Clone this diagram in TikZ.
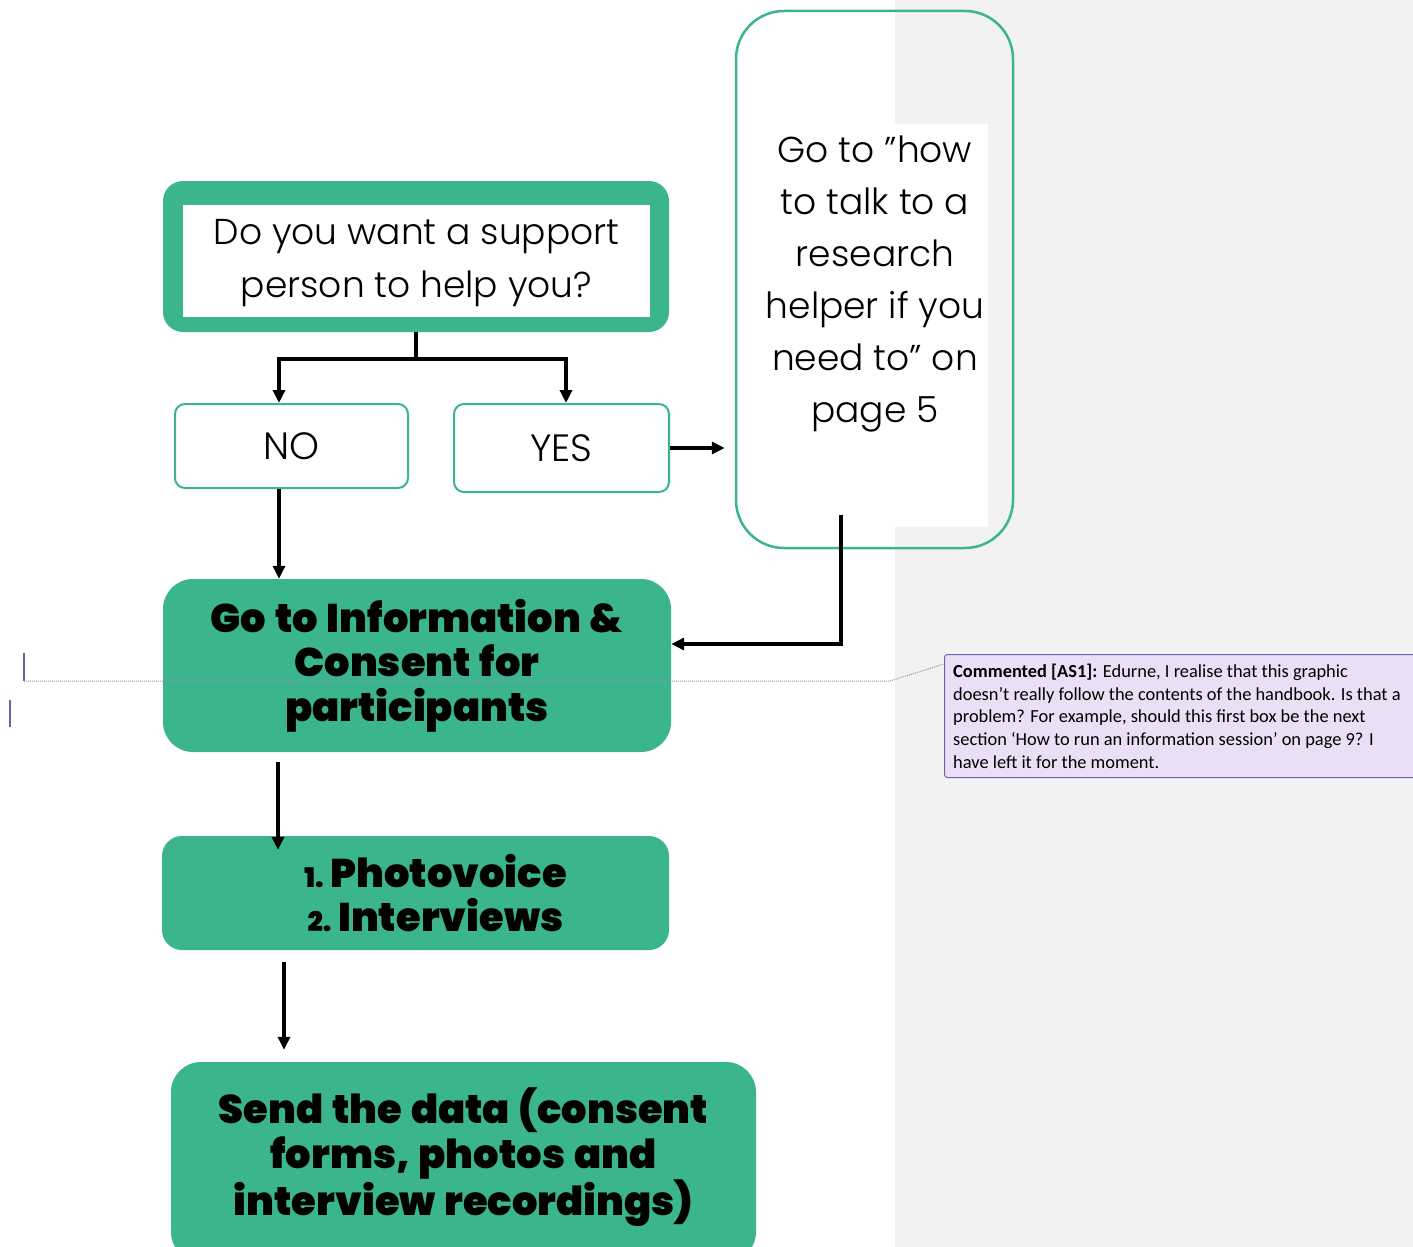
\documentclass[tikz,border=0pt]{standalone}
\usepackage{fontspec}
\setmainfont{Poppins}[UprightFont=* Light, BoldFont=* Black, BoldFeatures={WordSpace=1.3}]
\newfontfamily\cmtfont{Carlito}
\usetikzlibrary{arrows.meta,calc}
\definecolor{flowgreen}{RGB}{59,181,142}
\definecolor{pagegray}{RGB}{242,242,242}
\definecolor{cmtfill}{RGB}{234,223,244}
\definecolor{cmtline}{RGB}{120,90,170}
\newcommand\numsz{\fontsize{27}{30}\selectfont}
\begin{document}
\begin{tikzpicture}[x=1pt,y=-1pt,
  conn/.style={line width=4pt, -{Triangle[length=13pt,width=12pt]}},
  plainline/.style={line width=4pt},
  outlinebox/.style={draw=flowgreen, line width=2pt, fill=white, rounded corners=10pt, inner sep=0pt,
     font=\fontsize{38}{52}\selectfont, align=center},
  greenbox/.style={fill=flowgreen, inner sep=0pt, align=center,
     font=\bfseries\fontsize{40}{44.5}\selectfont}
]
\fill[white] (0,0) rectangle (1413,1247);
\fill[pagegray] (895,0) rectangle (1413,1247);
\useasboundingbox (0,0) rectangle (1413,1247);

% top question box
\node[fill=flowgreen, rounded corners=20pt, minimum width=506pt, minimum height=151pt, inner sep=0pt] (qframe) at (416,256.5) {};
\node[fill=white, minimum width=467pt, minimum height=112pt, inner sep=0pt] (qbg) at (416.5,261) {};
\node[align=center, inner sep=0pt, font=\fontsize{36}{53}\selectfont] (q) at (416.5,263) {Do you want a support\\person to help you?};

% NO / YES
\node[outlinebox, minimum width=233pt, minimum height=84pt] (no) at (291.5,446) {NO};
\node[outlinebox, minimum width=215pt, minimum height=88pt] (yes) at (561.5,448) {YES};

% tall box
\node[draw=flowgreen, line width=2.5pt, rounded corners=48pt, minimum width=277pt, minimum height=537pt, inner sep=0pt] (tall) at (874.5,279.5) {};
\node[fill=white, minimum width=226pt, minimum height=403pt, inner sep=0pt] (tallbg) at (875,325.5) {};
\node[align=center, font=\fontsize{36}{52}\selectfont, inner sep=0pt, anchor=north] (talltext) at (875,136)
  {Go to ”how\\to talk to a\\research\\helper if you\\need to” on\\page 5};

% green boxes
\node[greenbox, rounded corners=30pt, minimum width=508pt, minimum height=173pt] (info) at (417,665.5)
  {Go to Information \&\\Consent for\\participants};
\node[greenbox, rounded corners=20pt, minimum width=507pt, minimum height=114pt] (steps) at (415.5,893)
  {\hspace*{40pt}{\numsz 1.}\,Photovoice\\\hspace*{40pt}{\numsz 2.}\,Interviews};
\node[greenbox, rounded corners=30pt, minimum width=585pt, minimum height=200pt] (send) at (463.5,1162)
  {Send the data (consent\\forms, photos and\\interview recordings)\\[-24pt]};

% connectors
\coordinate (split) at ($(qframe.south)+(0,27)$);
\draw[plainline] (qframe.south) -- (split);
\draw[conn] (split) -| ([xshift=-12.5pt]no.north);
\draw[conn] (split) -| ([xshift=4.5pt]yes.north);
\draw[conn] (yes.east) -- ([xshift=-10pt]tall.west |- yes.east);
\draw[conn] ($(tall.south)+(-33.5,-34)$) |- ([yshift=21.5pt]info.east);
\draw[conn] ([xshift=-12.5pt]no.south) -- ([xshift=-12.5pt]no.south |- info.north);
\coordinate (a2) at ($(info.south)+(-139,10)$);
\draw[conn] (a2) -- ($(a2 |- steps.north)+(0,14)$);
\coordinate (a3) at ($(steps.south)+(-131.5,12)$);
\draw[conn] (a3) -- ($(a3 |- send.north)+(0,-12)$);

% comment
\node[draw=cmtline, line width=1pt, fill=cmtfill, rounded corners=3pt, anchor=north west,
      minimum width=480pt, minimum height=123pt, inner sep=0pt] (cmt) at (944,654) {};
\node[anchor=north west, align=left, inner sep=0pt, font=\cmtfont\fontsize{18.4}{22.6}\selectfont] (cmttext) at (953,664)
  {\textbf{Commented [AS1]:} Edurne, I realise that this graphic\\
   doesn’t really follow the contents of the handbook. Is that a\\
   problem? For example, should this first box be the next\\
   section ‘How to run an information session’ on page 9? I\\
   have left it for the moment.};
\coordinate (mk1) at (24,653);
\coordinate (mk1b) at (24,681);
\draw[cmtline!70, line width=1pt, densely dotted] (mk1b) -- (890,681) -- ([yshift=-10pt]cmt.north west);
\draw[cmtline, line width=1.2pt] (mk1) -- (mk1b);
\coordinate (mk2) at (10,700);
\draw[cmtline, line width=1.2pt] (mk2) -- ++(0,27);
\end{tikzpicture}
\end{document}
